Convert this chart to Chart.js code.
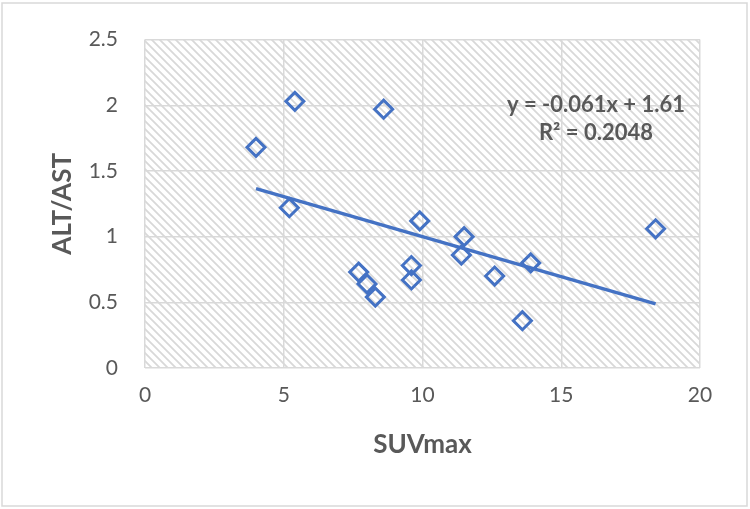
<!DOCTYPE html>
<html>
<head>
<meta charset="utf-8">
<script src="https://cdn.jsdelivr.net/npm/chart.js@4.4.0/dist/chart.umd.min.js"></script>
<style>
html, body { margin: 0; padding: 0; background: #fff; }
#wrap { width: 750px; height: 509px; position: relative; }
</style>
</head>
<body>
<div id="wrap"><canvas id="myChart"></canvas></div>
<script>
// SUVmax against ALT/AST ratio
const suvMax = [4.0, 5.4, 5.2, 8.6, 7.7, 8.0, 8.3, 9.6, 9.6, 9.9, 11.5, 11.4, 12.6, 13.9, 13.6, 18.4];
const altAst = [1.68, 2.03, 1.22, 1.97, 0.73, 0.64, 0.54, 0.78, 0.67, 1.12, 1.00, 0.86, 0.70, 0.80, 0.36, 1.06];

// Linear trend line (ends as drawn) and its label
const trendX = [4.0, 18.4];
const trendY = [1.366, 0.488];
const trendLabel = ['y = -0.061x + 1.61', 'R\u00B2 = 0.2048'];

// Axis ticks
const xTicks = [0, 5, 10, 15, 20];
const yTicks = [0, 0.5, 1, 1.5, 2, 2.5];

const blue = '#4472C4';
const grey = '#595959';
const gridGrey = '#d9d9d9';

const points = suvMax.map((x, i) => ({ x: x, y: altAst[i] }));
const trend = trendX.map((x, i) => ({ x: x, y: trendY[i] }));

// diagonal hatch for the plot area
const makeHatch = (ctx) => {
  const c = document.createElement('canvas');
  c.width = 8; c.height = 8;
  const p = c.getContext('2d');
  p.fillStyle = '#fff';
  p.fillRect(0, 0, 8, 8);
  p.strokeStyle = '#d8d8d8';
  p.lineWidth = 1.8;
  p.beginPath();
  p.moveTo(-2, -2); p.lineTo(10, 10);
  p.moveTo(-10, -2); p.lineTo(2, 10);
  p.moveTo(6, -2); p.lineTo(18, 10);
  p.stroke();
  return ctx.createPattern(c, 'repeat');
};

const backdrop = {
  id: 'backdrop',
  beforeDraw(chart) {
    const { ctx, chartArea: a } = chart;
    ctx.save();
    ctx.fillStyle = '#fff';
    ctx.fillRect(0, 0, chart.width, chart.height);
    ctx.strokeStyle = gridGrey;
    ctx.lineWidth = 1.5;
    ctx.strokeRect(2, 3, chart.width - 5, chart.height - 6);
    ctx.fillStyle = makeHatch(ctx);
    ctx.fillRect(a.left, a.top, a.right - a.left, a.bottom - a.top);
    ctx.restore();
  }
};

const equation = {
  id: 'equation',
  afterDatasetsDraw(chart) {
    const { ctx } = chart;
    const xs = chart.scales.x;
    const ys = chart.scales.y;
    const cx = xs.getPixelForValue(16.25);
    ctx.save();
    ctx.fillStyle = grey;
    ctx.font = 'bold 22px Lato';
    ctx.textAlign = 'center';
    ctx.textBaseline = 'middle';
    ctx.fillText(trendLabel[0], cx, ys.getPixelForValue(2.0));
    ctx.fillText(trendLabel[1], cx, ys.getPixelForValue(1.79));
    ctx.restore();
  }
};

new Chart(document.getElementById('myChart').getContext('2d'), {
  type: 'scatter',
  data: {
    datasets: [{
      label: 'ALT/AST',
      data: points,
      pointStyle: 'rectRot',
      pointRadius: 9,
      pointHoverRadius: 9,
      borderWidth: 3,
      borderColor: blue,
      backgroundColor: 'rgba(0,0,0,0)'
    }, {
      type: 'line',
      label: 'Linear',
      data: trend,
      borderColor: blue,
      borderWidth: 3.5,
      pointRadius: 0,
      fill: false
    }]
  },
  options: {
    responsive: true,
    maintainAspectRatio: false,
    animation: false,
    layout: { padding: { left: 0, top: 36, right: 50, bottom: 0 } },
    plugins: {
      legend: { display: false },
      tooltip: { enabled: false }
    },
    scales: {
      x: {
        type: 'linear',
        min: 0,
        max: 20,
        afterBuildTicks: (s) => { s.ticks = xTicks.map(v => ({ value: v })); },
        afterFit: (s) => { s.height = 141; },
        grid: { color: gridGrey, lineWidth: 1.5, drawTicks: false },
        border: { display: false },
        ticks: { color: grey, font: { family: 'Lato', size: 21 }, padding: 15, maxRotation: 0 },
        title: {
          display: true,
          text: 'SUVmax',
          color: grey,
          font: { family: 'Lato', size: 26, weight: 'bold' },
          padding: { top: 0, bottom: 49 }
        }
      },
      y: {
        type: 'linear',
        min: 0,
        max: 2.5,
        afterBuildTicks: (s) => { s.ticks = yTicks.map(v => ({ value: v })); },
        afterFit: (s) => { s.width = 145; },
        grid: { color: gridGrey, lineWidth: 1.5, drawTicks: false },
        border: { display: false },
        ticks: { color: grey, font: { family: 'Lato', size: 21 }, padding: 27, callback: (v) => String(v) },
        title: {
          display: true,
          text: 'ALT/AST',
          color: grey,
          font: { family: 'Lato', size: 26, weight: 'bold' },
          padding: { top: 47, bottom: 0 }
        }
      }
    }
  },
  plugins: [backdrop, equation]
});
</script>
</body>
</html>
